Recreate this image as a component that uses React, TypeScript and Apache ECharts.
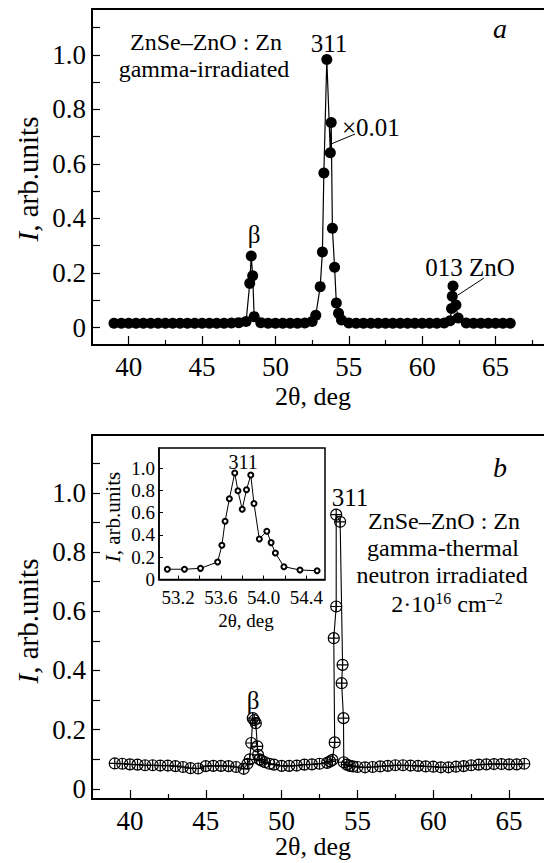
import React, { useEffect, useRef } from "react";
import * as echarts from "echarts";

const FONT = "'Liberation Serif', 'Times New Roman', serif";

// Panel a: ZnSe–ZnO:Zn gamma-irradiated
const aX = [39, 39.5, 40, 40.5, 41, 41.5, 42, 42.5, 43, 43.5, 44, 44.5, 45, 45.5, 46, 46.5, 47, 47.5, 48, 48.25, 48.35, 48.45, 48.55, 49, 49.5, 50, 50.5, 51, 51.5, 52, 52.5, 52.75, 53.05, 53.2, 53.3, 53.5, 53.74, 53.8, 53.88, 54.03, 54.15, 54.3, 54.5, 55, 55.5, 56, 56.5, 57, 57.5, 58, 58.5, 59, 59.5, 60, 60.5, 61, 61.5, 61.9, 62.0, 62.05, 62.1, 62.3, 62.45, 63, 63.5, 64, 64.5, 65, 65.5, 66];
const aY = [0.016, 0.016, 0.016, 0.016, 0.016, 0.016, 0.016, 0.016, 0.016, 0.016, 0.016, 0.016, 0.016, 0.016, 0.016, 0.016, 0.017, 0.018, 0.022, 0.162, 0.262, 0.19, 0.04, 0.018, 0.016, 0.016, 0.016, 0.016, 0.016, 0.017, 0.022, 0.045, 0.15, 0.277, 0.567, 0.983, 0.641, 0.752, 0.364, 0.221, 0.09, 0.052, 0.028, 0.017, 0.016, 0.016, 0.016, 0.016, 0.016, 0.016, 0.016, 0.016, 0.016, 0.016, 0.016, 0.016, 0.017, 0.025, 0.07, 0.115, 0.152, 0.083, 0.035, 0.017, 0.016, 0.016, 0.016, 0.016, 0.016, 0.016];

// Panel b: gamma-thermal neutron irradiated
const bX = [39, 39.5, 40, 40.5, 41, 41.5, 42, 42.5, 43, 43.5, 44, 44.5, 45, 45.5, 46, 46.5, 47, 47.5, 47.75, 47.9, 48.0, 48.1, 48.2, 48.3, 48.4, 48.45, 48.55, 48.7, 48.9, 49.2, 49.5, 50, 50.5, 51, 51.5, 52, 52.5, 53, 53.2, 53.35, 53.5, 53.44, 53.6, 53.6, 53.86, 54.02, 53.96, 54.08, 54.1, 54.3, 54.5, 54.7, 55, 55.5, 56, 56.5, 57, 57.5, 58, 58.5, 59, 59.5, 60, 60.5, 61, 61.5, 62, 62.5, 63, 63.5, 64, 64.5, 65, 65.5, 66];
const bY = [0.086, 0.085, 0.083, 0.082, 0.08, 0.08, 0.079, 0.079, 0.077, 0.074, 0.07, 0.069, 0.077, 0.078, 0.078, 0.077, 0.074, 0.068, 0.085, 0.1, 0.155, 0.239, 0.232, 0.222, 0.144, 0.115, 0.1, 0.095, 0.09, 0.085, 0.082, 0.078, 0.078, 0.079, 0.082, 0.083, 0.085, 0.088, 0.093, 0.098, 0.157, 0.509, 0.616, 0.926, 0.902, 0.419, 0.357, 0.239, 0.09, 0.082, 0.078, 0.076, 0.074, 0.073, 0.074, 0.076, 0.078, 0.08, 0.08, 0.079, 0.078, 0.076, 0.075, 0.073, 0.073, 0.075, 0.077, 0.08, 0.082, 0.083, 0.084, 0.084, 0.083, 0.083, 0.085];

// Inset: 311 peak detail
const insetX = [53.10, 53.26, 53.41, 53.57, 53.61, 53.64, 53.68, 53.73, 53.76, 53.80, 53.84, 53.88, 53.91, 53.96, 54.03, 54.07, 54.11, 54.19, 54.34, 54.50];
const insetY = [0.092, 0.092, 0.1, 0.157, 0.307, 0.523, 0.724, 0.955, 0.796, 0.631, 0.805, 0.937, 0.682, 0.364, 0.433, 0.331, 0.238, 0.115, 0.085, 0.079];

// Ticks and tick labels
const xTickLabels = [40, 45, 50, 55, 60, 65];
const xMinorTicks = [42.5, 47.5, 52.5, 57.5, 62.5, 67.5];
const yTicks = [0, 0.1, 0.2, 0.3, 0.4, 0.5, 0.6, 0.7, 0.8, 0.9, 1.0, 1.1];
const yTickLabels = [0, 0.2, 0.4, 0.6, 0.8, 1.0];
const insetXTicks = [53.2, 53.4, 53.6, 53.8, 54.0, 54.2, 54.4];
const insetXTickLabels = [53.2, 53.6, 54.0, 54.4];
const insetYTickLabels = [0, 0.2, 0.4, 0.6, 0.8, 1.0];

const fmt1 = (v: number) => (Math.abs(v) < 1e-9 ? "0" : v.toFixed(1));
const pairs = (xs: number[], ys: number[]) => xs.map((x, i) => [x, ys[i]]);

const CROSS_CIRCLE = "path://M10,0A10,10,0,1,1,-10,0A10,10,0,1,1,10,0ZM-10,0L10,0M0,-10L0,10";

const AXW = 2;
const MAIN_FS = 27;
const NOTE_FS = 25;
const LINE_FS = 24;
const INSET_FS = 19;

function mainXAxes(grid: number, min: number, max: number) {
  const common = { gridIndex: grid, type: "value", min, max, axisLine: { onZero: false, lineStyle: { color: "#000", width: AXW } }, splitLine: { show: false } };
  return [
    { ...common, position: "bottom",
      axisTick: { inside: true, length: 9, customValues: xTickLabels, lineStyle: { color: "#000", width: 1.2 } },
      axisLabel: { customValues: xTickLabels, formatter: (v: number) => String(v), color: "#000", fontFamily: FONT, fontSize: MAIN_FS, margin: 8 } },
    { ...common, position: "bottom",
      axisTick: { inside: true, length: 5, customValues: xMinorTicks, lineStyle: { color: "#000", width: 1.2 } }, axisLabel: { show: false } },
    { ...common, position: "top", axisTick: { show: false }, axisLabel: { show: false } },
  ];
}

function mainYAxis(grid: number, min: number, max: number) {
  return { gridIndex: grid, type: "value", min, max, position: "left",
    axisLine: { onZero: false, lineStyle: { color: "#000", width: AXW } }, splitLine: { show: false },
    axisTick: { inside: true, length: 8, customValues: yTicks, lineStyle: { color: "#000", width: 1.2 } },
    axisLabel: { customValues: yTickLabels, formatter: fmt1, color: "#000", fontFamily: FONT, fontSize: MAIN_FS, margin: 6 } };
}

function txt(text: string, x: number, y: number, size = MAIN_FS, extra: any = {}) {
  return { type: "text", x, y, z: 100, style: { text, fontFamily: FONT, fontSize: size, fill: "#000", align: "center", verticalAlign: "middle", ...extra } };
}

function yTitle(x: number, y: number, size: number) {
  return { type: "text", x, y, rotation: Math.PI / 2, z: 100,
    style: { text: "{i|I}{n|, arb.units}", align: "center", verticalAlign: "middle", fill: "#000",
      rich: { i: { fontFamily: FONT, fontSize: size, fontStyle: "italic", fill: "#000" }, n: { fontFamily: FONT, fontSize: size, fill: "#000" } } } };
}

export default function App() {
  const ref = useRef<HTMLDivElement>(null);
  useEffect(() => {
    if (!ref.current) return;
    const chart = echarts.init(ref.current, null, { renderer: "svg" });
    const option: any = {
      animation: false,
      backgroundColor: "#fff",
      grid: [
        { left: 92, top: 9, width: 452, height: 336 },
        { left: 92, top: 435, width: 452, height: 364 },
        { left: 159, top: 448, width: 166, height: 131.5, show: true, backgroundColor: "#fff", borderColor: "#000", borderWidth: 1.5, z: 5 },
      ],
      xAxis: [
        ...mainXAxes(0, 37.5, 68.3),
        ...mainXAxes(1, 37.5, 67.3),
        { gridIndex: 2, type: "value", min: 53.022, max: 54.574, position: "bottom", z: 6,
          axisLine: { onZero: false, lineStyle: { color: "#000", width: 1.5 } }, splitLine: { show: false },
          axisTick: { inside: true, length: 4, customValues: insetXTicks, lineStyle: { color: "#000", width: 1 } },
          axisLabel: { customValues: insetXTickLabels, formatter: (v: number) => v.toFixed(1), color: "#000", fontFamily: FONT, fontSize: INSET_FS, margin: 8 } },
      ],
      yAxis: [
        mainYAxis(0, -0.064, 1.168),
        mainYAxis(1, -0.034, 1.195),
        { gridIndex: 2, type: "value", min: 0, max: 1.18, position: "left", z: 6,
          axisLine: { onZero: false, lineStyle: { color: "#000", width: 1.5 } }, splitLine: { show: false },
          axisTick: { inside: true, length: 4, customValues: insetYTickLabels, lineStyle: { color: "#000", width: 1 } },
          axisLabel: { customValues: insetYTickLabels, formatter: fmt1, color: "#000", fontFamily: FONT, fontSize: INSET_FS, margin: 4 } },
      ],
      series: [
        { type: "line", xAxisIndex: 0, yAxisIndex: 0, data: pairs(aX, aY), symbol: "circle", symbolSize: 11,
          itemStyle: { color: "#000" }, lineStyle: { color: "#000", width: 1.2 } },
        { type: "line", xAxisIndex: 3, yAxisIndex: 1, data: pairs(bX, bY), symbol: CROSS_CIRCLE, symbolSize: 11,
          itemStyle: { color: "rgba(0,0,0,0)", borderColor: "#000", borderWidth: 1.2 }, lineStyle: { color: "#000", width: 1.1 } },
        { type: "line", xAxisIndex: 6, yAxisIndex: 2, data: pairs(insetX, insetY), symbol: "emptyCircle", symbolSize: 5, z: 10,
          itemStyle: { color: "#000", borderWidth: 1 }, lineStyle: { color: "#000", width: 1 } },
      ],
      graphic: [
        // panel a
        txt("ZnSe–ZnO : Zn", 206, 41.5, LINE_FS),
        txt("gamma-irradiated", 204, 68.5, LINE_FS),
        txt("311", 329, 43, NOTE_FS),
        txt("a", 500, 28, 28, { fontStyle: "italic" }),
        txt("×0.01", 342, 127, NOTE_FS, { align: "left" }),
        { type: "line", z: 100, shape: { x1: 355, y1: 134, x2: 331, y2: 144 }, style: { stroke: "#000", lineWidth: 1 } },
        txt("β", 254, 234, NOTE_FS),
        txt("013 ZnO", 470, 267, NOTE_FS),
        { type: "line", z: 100, shape: { x1: 484, y1: 278, x2: 458, y2: 295 }, style: { stroke: "#000", lineWidth: 1 } },
        txt("2θ, deg", 313, 396, 26),
        yTitle(28, 179, 29),
        // panel b
        txt("b", 500, 467, 28, { fontStyle: "italic" }),
        txt("311", 350, 497, NOTE_FS),
        txt("ZnSe–ZnO : Zn", 444, 521, LINE_FS),
        txt("gamma-thermal", 443, 548, LINE_FS),
        txt("neutron irradiated", 442, 575, LINE_FS),
        { type: "text", x: 447, y: 603, z: 100, style: { text: "{n|2·10}{s|16}{n| cm}{s|–2}", align: "center", verticalAlign: "middle", fill: "#000",
          rich: { n: { fontFamily: FONT, fontSize: LINE_FS, fill: "#000", lineHeight: 25, verticalAlign: "bottom" }, s: { fontFamily: FONT, fontSize: 16, fill: "#000", lineHeight: 25, verticalAlign: "top" } } } },
        txt("β", 253, 700, NOTE_FS),
        txt("2θ, deg", 313, 846, 26),
        yTitle(28, 621, 29),
        // inset
        txt("311", 243, 462, 20),
        txt("2θ, deg", 246, 620, INSET_FS),
        yTitle(113, 517, 21),
      ],
    };
    chart.setOption(option);
    return () => chart.dispose();
  }, []);
  return <div ref={ref} style={{ position: "absolute", left: 0, top: 0, width: 544, height: 863 }} />;
}
